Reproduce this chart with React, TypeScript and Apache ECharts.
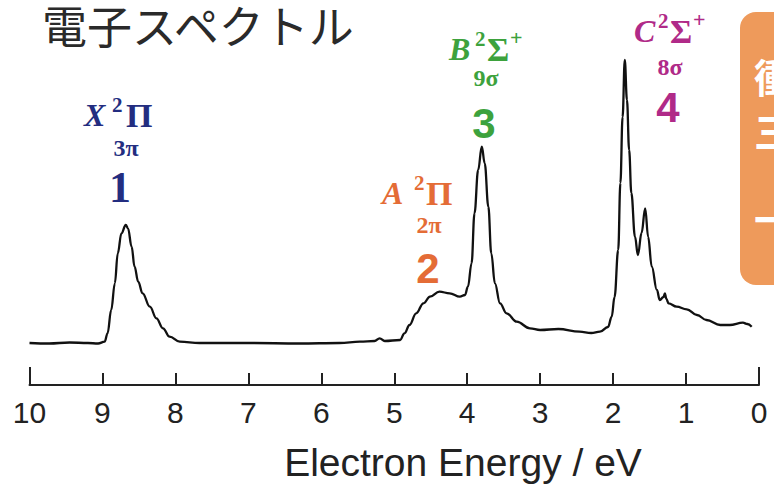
import React, { useEffect, useRef } from "react";
import * as echarts from "echarts";

// Spectrum trace: electron energy (eV) vs. intensity (arbitrary units)
const energy = [
  10.0, 9.73, 9.45, 9.2, 9.06, 8.97, 8.93, 8.88, 8.83, 8.79, 8.74, 8.68, 8.65, 8.6, 8.56, 8.51,
  8.45, 8.35, 8.26, 8.17, 8.08, 7.94, 7.67, 6.98, 6.3, 5.75, 5.47, 5.27, 5.2, 5.13, 4.92, 4.86,
  4.79, 4.7, 4.6, 4.51, 4.38, 4.24, 4.1, 4.03, 3.99, 3.94, 3.9, 3.85, 3.8, 3.76, 3.71, 3.67,
  3.62, 3.55, 3.46, 3.32, 3.14, 3.0, 2.75, 2.46, 2.3, 2.18, 2.07, 2.02, 1.98, 1.93, 1.9, 1.87,
  1.84, 1.81, 1.78, 1.75, 1.7, 1.66, 1.61, 1.56, 1.52, 1.47, 1.4, 1.36, 1.31, 1.29, 1.27, 1.24,
  1.13, 0.99, 0.85, 0.72, 0.53, 0.4, 0.22, 0.16, 0.1,
];
const intensity = [
  42, 41.5, 42.5, 42, 41.5, 43.3, 51.7, 75, 101.7, 131.7, 151.7, 160, 156.7, 138.3, 118.3, 103.3,
  91.7, 78.3, 66.7, 56.7, 48.3, 43.3, 42, 42, 41.5, 42, 43.3, 44, 46.7, 44, 45, 51.7,
  60, 71.7, 81.7, 88.3, 93.3, 91.7, 88.3, 90, 98.3, 121.7, 171.7, 215, 238.3, 221.7, 178.3, 131.7,
  101.7, 81.7, 71.7, 63.3, 56.7, 55, 56, 53.3, 52, 53.3, 58, 68, 88, 135, 202, 268,
  325, 285, 235, 192, 148.3, 130, 152, 176.7, 148.3, 118.3, 95, 85, 88, 91.7, 86, 81.7,
  78.3, 75.7, 70, 65, 60, 60, 62.3, 61, 58.3,
];
const xTicks = { min: 0, max: 10, interval: 1 };
const titleText = "電子スペクトル";
const axisTitle = "Electron Energy / eV";
const stateLetters = ["X", "A", "B", "C"];
const stateTerms = ["Π", "Π", "Σ", "Σ"];
const termPlus = ["", "", "+", "+"];
const orbitals = ["3π", "2π", "9σ", "8σ"];
const bandNumbers = ["1", "2", "3", "4"];
const sideChars = ["衝", "三", "一"];

const labelColors = ["#232d80", "#e46c36", "#3da23d", "#b02a88"];
// layout for each label (pixels)
const labelLayout = [
  { x0: 84, y0: 115, sup: 28, term: 42, plus: 0, ox: 126, oy: 148, nx: 120, ny: 187, serifNum: true },
  { x0: 382, y0: 193, sup: 32, term: 44, plus: 0, ox: 429, oy: 225, nx: 428, ny: 268, serifNum: false },
  { x0: 449, y0: 49, sup: 26, term: 38, plus: 61, ox: 486, oy: 78, nx: 484, ny: 123, serifNum: false },
  { x0: 634, y0: 31, sup: 24, term: 36, plus: 59, ox: 670, oy: 67, nx: 668, ny: 107, serifNum: false },
];

function buildLabels() {
  const els: any[] = [];
  const serif = '"Liberation Serif", "DejaVu Serif", serif';
  const sans = '"Liberation Sans", Arial, sans-serif';
  for (let i = 0; i < 4; i++) {
    const L = labelLayout[i];
    const c = labelColors[i];
    els.push({
      type: "text", x: L.x0, y: L.y0,
      style: { text: stateLetters[i], fill: c, fontSize: 32, fontStyle: "italic", fontWeight: "bold", fontFamily: serif, textAlign: "left", textVerticalAlign: "middle" },
    });
    els.push({
      type: "text", x: L.x0 + L.sup, y: L.y0 - 10,
      style: { text: "2", fill: c, fontSize: 21, fontWeight: "bold", fontFamily: serif, textAlign: "left", textVerticalAlign: "middle" },
    });
    els.push({
      type: "text", x: L.x0 + L.term, y: L.y0,
      style: { text: stateTerms[i], fill: c, fontSize: 34, fontWeight: "bold", fontFamily: serif, textAlign: "left", textVerticalAlign: "middle" },
    });
    if (termPlus[i]) {
      els.push({
        type: "text", x: L.x0 + L.plus, y: L.y0 - 12,
        style: { text: termPlus[i], fill: c, fontSize: 22, fontWeight: "bold", fontFamily: serif, textAlign: "left", textVerticalAlign: "middle" },
      });
    }
    els.push({
      type: "text", x: L.ox, y: L.oy,
      style: { text: orbitals[i], fill: c, fontSize: 24, fontWeight: "bold", fontFamily: serif, textAlign: "center", textVerticalAlign: "middle" },
    });
    els.push({
      type: "text", x: L.nx, y: L.ny,
      style: { text: bandNumbers[i], fill: c, fontSize: L.serifNum ? 44 : 42, fontWeight: "bold", fontFamily: L.serifNum ? serif : sans, textAlign: "center", textVerticalAlign: "middle" },
    });
  }
  return els;
}

export default function App() {
  const ref = useRef<HTMLDivElement>(null);
  useEffect(() => {
    if (!ref.current) return;
    const chart = echarts.init(ref.current, undefined, { renderer: "svg" });
    const data = energy.map((e, i) => [e, intensity[i]]);
    const cjk = '"Noto Sans CJK JP", sans-serif';
    chart.setOption({
      animation: false,
      backgroundColor: "#ffffff",
      grid: { left: 29.5, right: 15, top: 35, bottom: 99, containLabel: false, outerBoundsMode: "none" },
      xAxis: {
        type: "value",
        inverse: true,
        min: xTicks.min,
        max: xTicks.max,
        interval: xTicks.interval,
        axisLine: { show: true, onZero: false, lineStyle: { color: "#222", width: 2 } },
        axisTick: { show: true, inside: true, length: 12, lineStyle: { color: "#222", width: 2 } },
        axisLabel: { fontSize: 30, color: "#222", margin: 12, fontFamily: '"Liberation Sans", Arial, sans-serif' },
        splitLine: { show: false },
      },
      yAxis: { type: "value", min: 0, max: 350, show: false },
      series: [
        {
          type: "line",
          data,
          smooth: 0.4,
          smoothMonotone: "x",
          showSymbol: false,
          clip: false,
          lineStyle: { color: "#111", width: 2.3 },
          markLine: {
            silent: true,
            symbol: "none",
            label: { show: false },
            lineStyle: { color: "#222", width: 2, type: "solid" },
            data: [
              [{ coord: [xTicks.max, 0] }, { coord: [xTicks.max, 18] }],
              [{ coord: [xTicks.min, 0] }, { coord: [xTicks.min, 18] }],
            ],
          },
        },
      ],
      graphic: [
        {
          type: "text", x: 42, y: 24,
          style: { text: titleText, fill: "#2a2a2a", fontSize: 45, lineHeight: 45, fontFamily: cjk, textAlign: "left", textVerticalAlign: "middle" },
        },
        {
          type: "text", x: 463, y: 462,
          style: { text: axisTitle, fill: "#222", fontSize: 39, lineHeight: 40, fontFamily: '"Liberation Sans", Arial, sans-serif', textAlign: "center", textVerticalAlign: "middle" },
        },
        { type: "rect", shape: { x: 740, y: 12, width: 60, height: 273, r: 16 }, style: { fill: "#ee9a5b" } },
        {
          type: "text", x: 754, y: 76,
          style: { text: sideChars[0], fill: "#ffffff", fontSize: 40, lineHeight: 40, fontWeight: "bold", fontFamily: cjk, textAlign: "left", textVerticalAlign: "middle" },
        },
        {
          type: "text", x: 754, y: 130,
          style: { text: sideChars[1], fill: "#ffffff", fontSize: 40, lineHeight: 40, fontWeight: "bold", fontFamily: cjk, textAlign: "left", textVerticalAlign: "middle" },
        },
        {
          type: "text", x: 754, y: 218,
          style: { text: sideChars[2], fill: "#ffffff", fontSize: 40, lineHeight: 40, fontWeight: "bold", fontFamily: cjk, textAlign: "left", textVerticalAlign: "middle" },
        },
        ...buildLabels(),
      ],
    });
    return () => chart.dispose();
  }, []);
  return <div ref={ref} style={{ position: "fixed", left: 0, top: 0, width: 774, height: 484 }} />;
}
